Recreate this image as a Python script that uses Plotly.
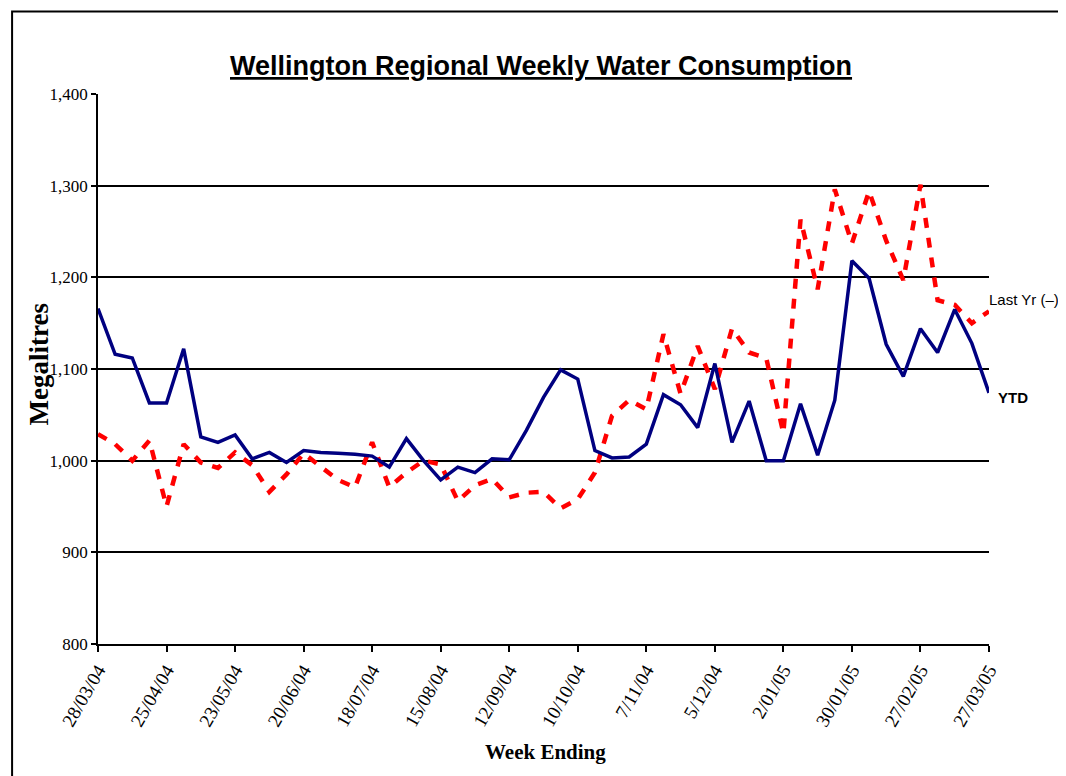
import pandas as pd
import plotly.graph_objects as go

# Week-ending dates (weekly, 28/03/2004 .. 27/03/2005)
week_ending = pd.date_range("2004-03-28", periods=53, freq="7D")

ytd = [1166, 1116, 1112, 1063, 1063, 1122, 1026, 1020, 1028, 1002,
       1009, 998, 1011, 1009, 1008, 1007, 1005, 993, 1024, 1000,
       979, 993, 987, 1002, 1001, 1033, 1069, 1099, 1089, 1011,
       1003, 1004, 1018, 1072, 1061, 1036, 1106, 1020, 1065, 1000,
       1000, 1062, 1006, 1066, 1218, 1199, 1127, 1092, 1144, 1118,
       1165, 1128, 1074]

last_yr = [1029, 1018, 1000, 1022, 950, 1018, 998, 992, 1009, 995,
           966, 985, 1008, 993, 979, 971, 1020, 971, 987, 1000,
           996, 956, 973, 980, 960, 965, 966, 948, 958, 987,
           1049, 1066, 1056, 1138, 1073, 1125, 1078, 1144, 1118, 1112,
           1030, 1263, 1187, 1296, 1237, 1294, 1240, 1197, 1301, 1175,
           1170, 1150, 1163]

tick_labels = ["28/03/04", "25/04/04", "23/05/04", "20/06/04", "18/07/04",
               "15/08/04", "12/09/04", "10/10/04", "7/11/04", "5/12/04",
               "2/01/05", "30/01/05", "27/02/05", "27/03/05"]
tick_dates = week_ending[::4]

y_ticks = [800, 900, 1000, 1100, 1200, 1300, 1400]

serif = "Times New Roman, Liberation Serif, serif"
sans = "Arial, Liberation Sans, sans-serif"

fig = go.Figure()
fig.add_trace(go.Scatter(x=week_ending, y=last_yr, mode="lines", name="Last Yr",
                         line=dict(color="#FF0000", width=4.5, dash="10px,10px"),
                         showlegend=False))
fig.add_trace(go.Scatter(x=week_ending, y=ytd, mode="lines", name="YTD",
                         line=dict(color="#000080", width=3.5),
                         showlegend=False))

# page offset from default body margin
OFF = 8
W, H = 1066 - OFF, 776 - OFF
L = 97.5 - OFF
T = 94.4 - OFF
R = W - (989.4 - OFF)
B = H - (643.8 - OFF)

fig.update_layout(
    width=W, height=H,
    margin=dict(l=L, r=R, t=T, b=B, pad=0),
    paper_bgcolor="white", plot_bgcolor="white",
    showlegend=False,
)
fig.update_xaxes(
    range=[week_ending[0], week_ending[-1]],
    tickvals=tick_dates, ticktext=tick_labels, tickangle=-60,
    tickfont=dict(family=serif, size=19, color="black"),
    showline=True, linecolor="black", linewidth=1.5,
    ticks="outside", ticklen=6, tickwidth=1.5, tickcolor="black",
    showgrid=False, zeroline=False,
)
fig.update_yaxes(
    range=[800, 1400], tickvals=y_ticks, tickformat=",",
    tickfont=dict(family=serif, size=17, color="black"),
    showline=True, linecolor="black", linewidth=1.5,
    ticks="outside", ticklen=5, tickwidth=1.5, tickcolor="black",
    showgrid=True, gridcolor="black", gridwidth=1.5, zeroline=False,
)

pw = W - L - R
ph = H - T - B

def px(x):
    # page pixel x -> paper coordinate
    return (x - OFF - L) / pw

def py(y):
    # page pixel y -> paper coordinate
    return (H - B - (y - OFF)) / ph

fig.add_annotation(text="<b>Wellington Regional Weekly Water Consumption</b>",
                   x=px(541), y=py(66), xref="paper", yref="paper",
                   showarrow=False, xanchor="center", yanchor="middle",
                   font=dict(family=sans, size=27, color="black", lineposition="under"))
fig.add_annotation(text="<b>Megalitres</b>", textangle=-90,
                   x=px(38), y=py(365), xref="paper", yref="paper",
                   showarrow=False, xanchor="center", yanchor="middle",
                   font=dict(family=serif, size=27, color="black"))
fig.add_annotation(text="<b>Week Ending</b>",
                   x=px(545), y=py(752), xref="paper", yref="paper",
                   showarrow=False, xanchor="center", yanchor="middle",
                   font=dict(family=serif, size=21, color="black"))
fig.add_annotation(text="Last Yr (–)",
                   x=px(987), y=py(300), xref="paper", yref="paper",
                   showarrow=False, xanchor="left", yanchor="middle",
                   font=dict(family=sans, size=15, color="black"))
fig.add_annotation(text="<b>YTD</b>",
                   x=px(996), y=py(398), xref="paper", yref="paper",
                   showarrow=False, xanchor="left", yanchor="middle",
                   font=dict(family=sans, size=15, color="black"))

# outer chart border (extends beyond the visible page on right/bottom)
fig.add_shape(type="rect", xref="paper", yref="paper",
              x0=px(11.5), x1=px(1110), y0=py(12), y1=py(820),
              line=dict(color="black", width=2), fillcolor="rgba(0,0,0,0)",
              layer="below")

fig.write_html("out.html")
